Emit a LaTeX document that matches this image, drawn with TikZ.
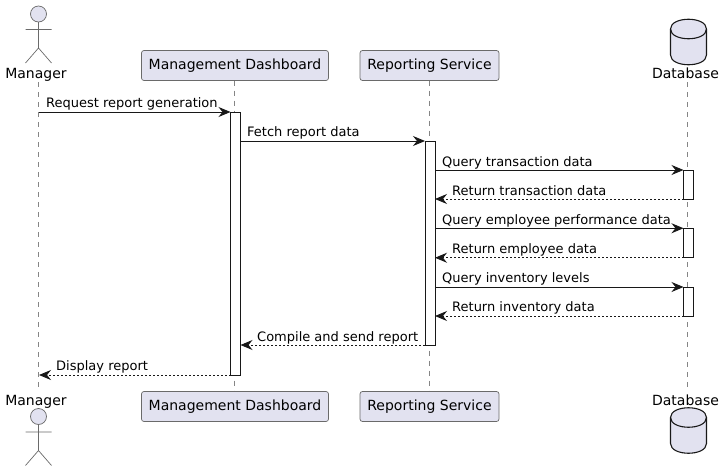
\documentclass[tikz,border=0pt]{standalone}
\usepackage{fontspec}
\setmainfont{DejaVu Sans}
\usetikzlibrary{arrows.meta}
\definecolor{partfill}{HTML}{E2E2F0}
\definecolor{partline}{HTML}{6A6A6A}
\definecolor{lifec}{HTML}{858585}
\definecolor{inkc}{HTML}{181818}
\tikzset{
  x=1pt,y=-1pt,
  partbox/.style={draw=partline,fill=partfill,rounded corners=2.5pt,line width=0.7pt,minimum height=30pt,inner sep=0pt,outer sep=0pt,font=\fontsize{14}{16}\selectfont,text=black},
  lifeline/.style={draw=lifec,line width=0.7pt,dash pattern=on 5pt off 5pt},
  actext/.style={font=\fontsize{14}{16}\selectfont,text=black,inner sep=0pt,anchor=base},
  actbar/.style={draw=inkc,fill=white,line width=0.9pt,outer sep=0pt,inner sep=0pt},
  msgtip/.style={-{Stealth[inset=4pt,length=12pt,width=10pt]}},
  call/.style={draw=inkc,line width=0.9pt,msgtip},
  ret/.style={draw=inkc,line width=0.9pt,msgtip,dash pattern=on 2pt off 2pt},
  lbl/.style={font=\fontsize{13}{15}\selectfont,text=black,inner sep=0pt,anchor=base west},
  stick/.style={draw=partline,line width=0.7pt},
  cyl/.style={draw=inkc,fill=partfill,line width=1.1pt}
}
\newcommand{\stickman}[1]{%
  \filldraw[stick,fill=partfill] (38.5,#1) circle (8);
  \draw[stick] (38.5,#1+8) -- (38.5,#1+34) (25.5,#1+15.5) -- (51.5,#1+15.5)
    (25.5,#1+49) -- (38.5,#1+34) -- (51.5,#1+49);}
\newcommand{\dbcyl}[1]{%
  \draw[cyl] (670.5,#1+10) .. controls (670.5,#1-3) and (706.5,#1-3) .. (706.5,#1+10)
    -- (706.5,#1+36) .. controls (706.5,#1+49) and (670.5,#1+49) .. (670.5,#1+36) -- cycle;
  \draw[cyl,fill=none] (670.5,#1+10) .. controls (670.5,#1+23) and (706.5,#1+23) .. (706.5,#1+10);}
\begin{document}
\begin{tikzpicture}
\useasboundingbox (0,0) rectangle (724,472);
% anchors of the lifelines
\coordinate (mgrT) at (38.5,82);   \coordinate (mgrB) at (38.5,390);
\coordinate (dashT) at (234.5,80.5); \coordinate (dashB) at (234.5,391.5);
\coordinate (repT) at (429.5,80.5);  \coordinate (repB) at (429.5,391.5);
\coordinate (dbT) at (687.5,82);   \coordinate (dbB) at (687.5,390);
\draw[lifeline] (mgrT) -- (mgrB);
\draw[lifeline] (dashT) -- (dashB);
\draw[lifeline] (repT) -- (repB);
\draw[lifeline] (dbT) -- (dbB);
% participants, top
\stickman{14}
\node[actext] (mgrTop) at (36,78) {Manager};
\node[partbox,minimum width=187pt] (dashTop) at (235,65.5) {Management Dashboard};
\node[partbox,minimum width=139pt] (repTop) at (429.5,65.5) {Reporting Service};
\dbcyl{19}
\node[actext] (dbTop) at (685.5,78) {Database};
% participants, bottom
\node[actext] (mgrBot) at (36,405) {Manager};
\stickman{416.5}
\node[partbox,minimum width=187pt] (dashBot) at (235,406.5) {Management Dashboard};
\node[partbox,minimum width=139pt] (repBot) at (429.5,406.5) {Reporting Service};
\node[actext] (dbBot) at (685.5,405) {Database};
\dbcyl{407.5}
% activations
\node[actbar,minimum width=10pt,minimum height=263pt] (a1) at (235.5,243.5) {};
\node[actbar,minimum width=10pt,minimum height=204pt] (a2) at (430,243) {};
\node[actbar,minimum width=10pt,minimum height=29pt] (d1) at (688.5,184.5) {};
\node[actbar,minimum width=10pt,minimum height=29.5pt] (d2) at (688.5,243) {};
\node[actbar,minimum width=10pt,minimum height=29pt] (d3) at (688.5,301.5) {};
% free ends
\coordinate (m1s) at (38.5,112);
\coordinate (m10e) at (39,375);
% messages
\draw[call] (m1s) -- (a1.north west);
\draw[call] (a1.east |- a2.north) -- (a2.north west);
\draw[call] (a2.east |- d1.north) -- (d1.north west);
\draw[ret] (d1.south west) -- (a2.east |- d1.south);
\draw[call] (a2.east |- d2.north) -- (d2.north west);
\draw[ret] (d2.south west) -- (a2.east |- d2.south);
\draw[call] (a2.east |- d3.north) -- (d3.north west);
\draw[ret] (d3.south west) -- (a2.east |- d3.south);
\draw[ret] (a2.south west) -- (a1.east |- a2.south);
\draw[ret] (a1.south west) -- (m10e |- a1.south);
% labels
\node[lbl] (t1) at (46,107) {Request report generation};
\node[lbl] (t2) at (247,136) {Fetch report data};
\node[lbl] (t3) at (442,166) {Query transaction data};
\node[lbl] (t4) at (452,195) {Return transaction data};
\node[lbl] (t5) at (442,224) {Query employee performance data};
\node[lbl] (t6) at (452,253) {Return employee data};
\node[lbl] (t7) at (442,282) {Query inventory levels};
\node[lbl] (t8) at (452,311) {Return inventory data};
\node[lbl] (t9) at (257,341) {Compile and send report};
\node[lbl] (t10) at (56,370) {Display report};
\end{tikzpicture}
\end{document}
